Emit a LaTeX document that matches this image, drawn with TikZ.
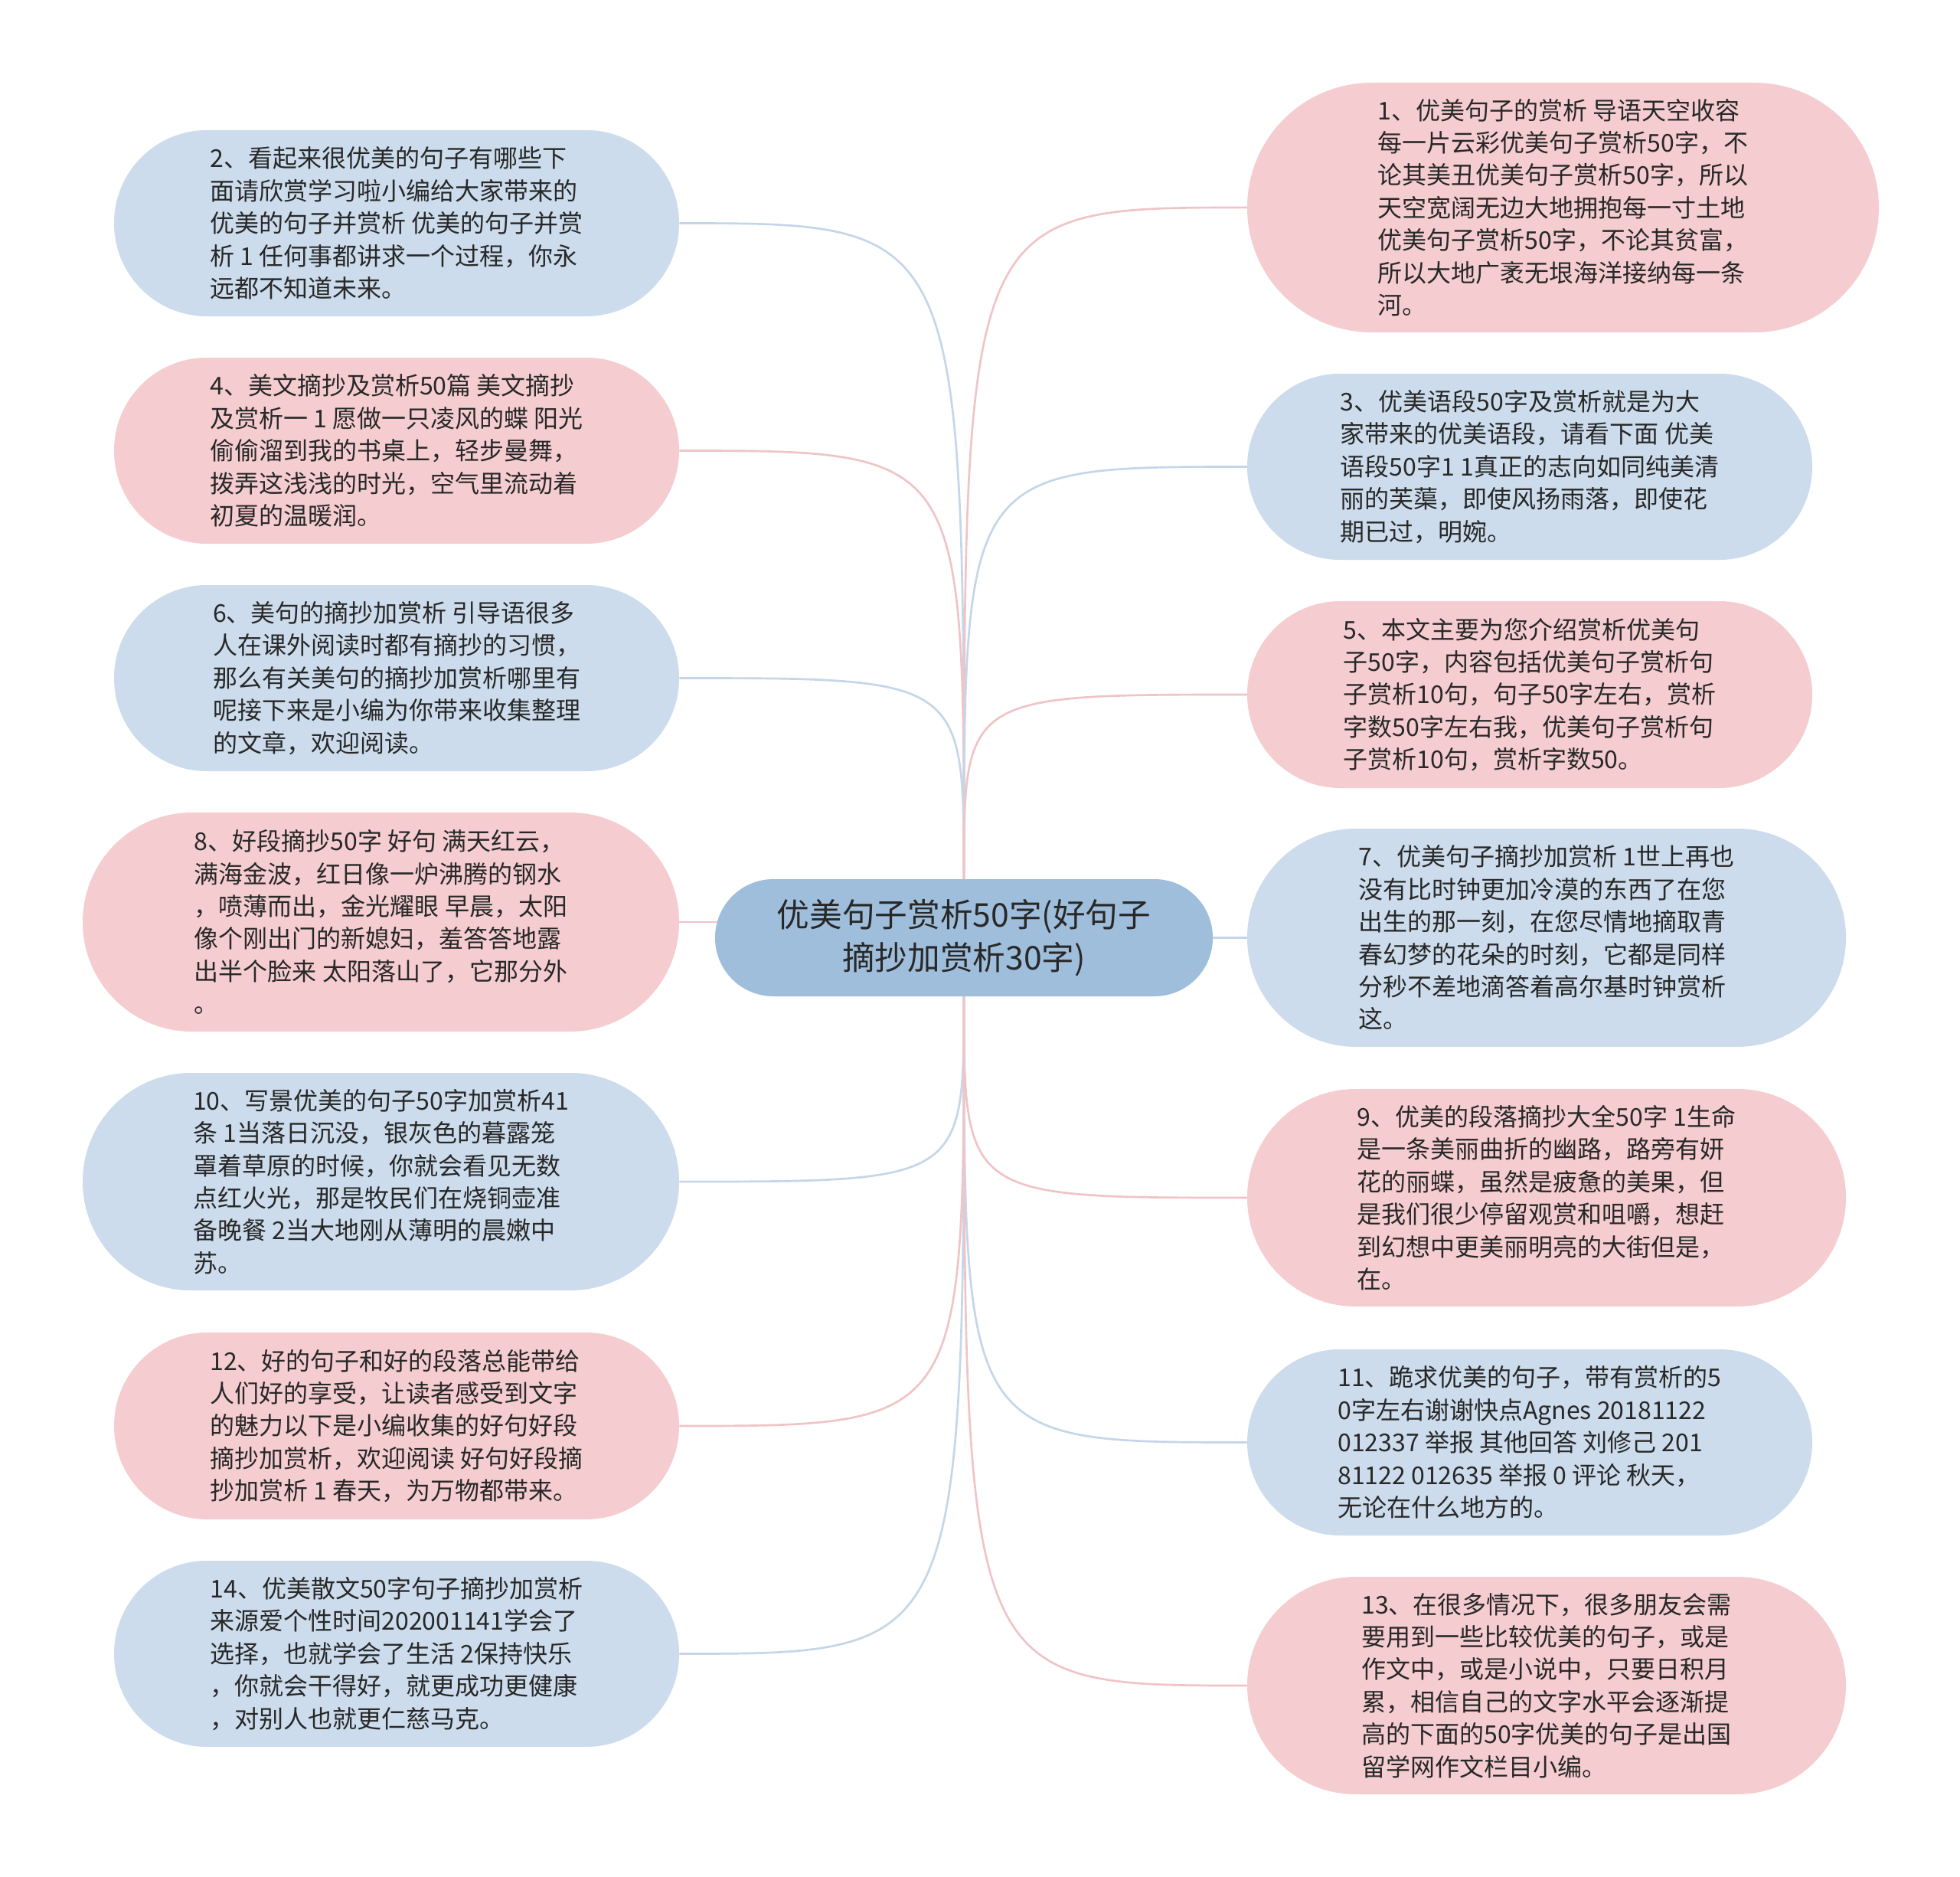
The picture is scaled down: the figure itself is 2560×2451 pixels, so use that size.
\documentclass[tikz,border=0pt]{standalone}
\usepackage{fontspec}
\setmainfont{Noto Sans CJK SC}
\definecolor{leafblue}{RGB}{204,220,236}
\definecolor{leafpink}{RGB}{245,205,208}
\definecolor{rootblue}{RGB}{159,190,219}
\definecolor{edgeblue}{RGB}{197,214,232}
\definecolor{edgepink}{RGB}{240,196,199}
\definecolor{txt}{RGB}{40,40,40}
\tikzset{
  leaf/.style={rectangle, align=left, text=txt, inner sep=0pt,
    font=\fontsize{24pt}{31.8pt}\selectfont},
  bl/.style={leaf, fill=leafblue},
  pk/.style={leaf, fill=leafpink},
  sz/.style n args={2}{minimum width=#1, minimum height=#2, rounded corners=#2/2-0.2pt},
  rootbox/.style={rectangle, fill=rootblue, align=center, text=txt, inner sep=0pt,
    font=\fontsize{32pt}{41.6pt}\selectfont},
  eb/.style={draw=edgeblue, line width=2pt},
  ep/.style={draw=edgepink, line width=2pt}
}
\begin{document}
\begin{tikzpicture}[x=0.75pt,y=-0.75pt]
\useasboundingbox (0,0) rectangle (2560,2451);
\fill[white] (0,0) rectangle (2560,2451);

% root
\node[rootbox, sz={487.5pt}{114.75pt}] (c) at (1259,1224.5) {优美句子赏析50字(好句子\\摘抄加赏析30字)};

% left column
\node[bl, sz={553.5pt}{182.25pt}] (n2) at (518,291.5) {2、看起来很优美的句子有哪些下\\面请欣赏学习啦小编给大家带来的\\优美的句子并赏析 优美的句子并赏\\析 1 任何事都讲求一个过程，你永\\远都不知道未来。};
\node[pk, sz={553.5pt}{182.25pt}] (n4) at (518,588.5) {4、美文摘抄及赏析50篇 美文摘抄\\及赏析一 1 愿做一只凌风的蝶 阳光\\偷偷溜到我的书桌上，轻步曼舞，\\拨弄这浅浅的时光，空气里流动着\\初夏的温暖润。};
\node[bl, sz={553.5pt}{182.25pt}] (n6) at (518,885.5) {6、美句的摘抄加赏析 引导语很多\\人在课外阅读时都有摘抄的习惯，\\那么有关美句的摘抄加赏析哪里有\\呢接下来是小编为你带来收集整理\\的文章，欢迎阅读。};
\node[pk, sz={584.25pt}{214.5pt}] (n8) at (497.5,1204) {8、好段摘抄50字 好句 满天红云，\\满海金波，红日像一炉沸腾的钢水\\，喷薄而出，金光耀眼 早晨，太阳\\像个刚出门的新媳妇，羞答答地露\\出半个脸来 太阳落山了，它那分外\\。};
\node[bl, sz={584.25pt}{213pt}] (n10) at (497.5,1543) {10、写景优美的句子50字加赏析41\\条 1当落日沉没，银灰色的暮露笼\\罩着草原的时候，你就会看见无数\\点红火光，那是牧民们在烧铜壶准\\备晚餐 2当大地刚从薄明的晨嫩中\\苏。};
\node[pk, sz={553.5pt}{183pt}] (n12) at (518,1862) {12、好的句子和好的段落总能带给\\人们好的享受，让读者感受到文字\\的魅力以下是小编收集的好句好段\\摘抄加赏析，欢迎阅读 好句好段摘\\抄加赏析 1 春天，为万物都带来。};
\node[bl, sz={553.5pt}{182.25pt}] (n14) at (518,2159.5) {14、优美散文50字句子摘抄加赏析\\来源爱个性时间202001141学会了\\选择，也就学会了生活 2保持快乐\\，你就会干得好，就更成功更健康\\，对别人也就更仁慈马克。};

% right column
\node[pk, sz={618.75pt}{244.5pt}] (n1) at (2041.5,271) {1、优美句子的赏析 导语天空收容\\每一片云彩优美句子赏析50字，不\\论其美丑优美句子赏析50字，所以\\天空宽阔无边大地拥抱每一寸土地\\优美句子赏析50字，不论其贫富，\\所以大地广袤无垠海洋接纳每一条\\河。};
\node[bl, sz={553.5pt}{182.25pt}] (n3) at (1998,609.5) {3、优美语段50字及赏析就是为大\\家带来的优美语段，请看下面 优美\\语段50字1 1真正的志向如同纯美清\\丽的芙蕖，即使风扬雨落，即使花\\期已过，明婉。};
\node[pk, sz={553.5pt}{183pt}] (n5) at (1998,907) {5、本文主要为您介绍赏析优美句\\子50字，内容包括优美句子赏析句\\子赏析10句，句子50字左右，赏析\\字数50字左右我，优美句子赏析句\\子赏析10句，赏析字数50。};
\node[bl, sz={586.5pt}{213.75pt}] (n7) at (2020,1224.5) {7、优美句子摘抄加赏析 1世上再也\\没有比时钟更加冷漠的东西了在您\\出生的那一刻，在您尽情地摘取青\\春幻梦的花朵的时刻，它都是同样\\分秒不差地滴答着高尔基时钟赏析\\这。};
\node[pk, sz={586.5pt}{213pt}] (n9) at (2020,1564) {9、优美的段落摘抄大全50字 1生命\\是一条美丽曲折的幽路，路旁有妍\\花的丽蝶，虽然是疲惫的美果，但\\是我们很少停留观赏和咀嚼，想赶\\到幻想中更美丽明亮的大街但是，\\在。};
\node[bl, sz={553.5pt}{182.25pt}] (n11) at (1998,1883.5) {11、跪求优美的句子，带有赏析的5\\0字左右谢谢快点Agnes 20181122\\012337 举报 其他回答 刘修己 201\\81122 012635 举报 0 评论 秋天，\\无论在什么地方的。};
\node[pk, sz={586.5pt}{213pt}] (n13) at (2020,2201) {13、在很多情况下，很多朋友会需\\要用到一些比较优美的句子，或是\\作文中，或是小说中，只要日积月\\累，相信自己的文字水平会逐渐提\\高的下面的50字优美的句子是出国\\留学网作文栏目小编。};

% connectors
\coordinate (ct) at (c.north);
\coordinate (cb) at (c.south);
\coordinate (cl) at (937,1204);
\draw[eb] (ct) .. controls (ct |- n2.east) .. (n2.east);
\draw[ep] (ct) .. controls (ct |- n4.east) .. (n4.east);
\draw[eb] (ct) .. controls (ct |- n6.east) .. (n6.east);
\draw[ep] (ct) .. controls (ct |- n1.west) .. (n1.west);
\draw[eb] (ct) .. controls (ct |- n3.west) .. (n3.west);
\draw[ep] (ct) .. controls (ct |- n5.west) .. (n5.west);
\draw[ep] (cl) -- (n8.east);
\draw[eb] (c.east) -- (n7.west);
\draw[eb] (cb) .. controls (cb |- n10.east) .. (n10.east);
\draw[ep] (cb) .. controls (cb |- n12.east) .. (n12.east);
\draw[eb] (cb) .. controls (cb |- n14.east) .. (n14.east);
\draw[ep] (cb) .. controls (cb |- n9.west) .. (n9.west);
\draw[eb] (cb) .. controls (cb |- n11.west) .. (n11.west);
\draw[ep] (cb) .. controls (cb |- n13.west) .. (n13.west);
\end{tikzpicture}
\end{document}
